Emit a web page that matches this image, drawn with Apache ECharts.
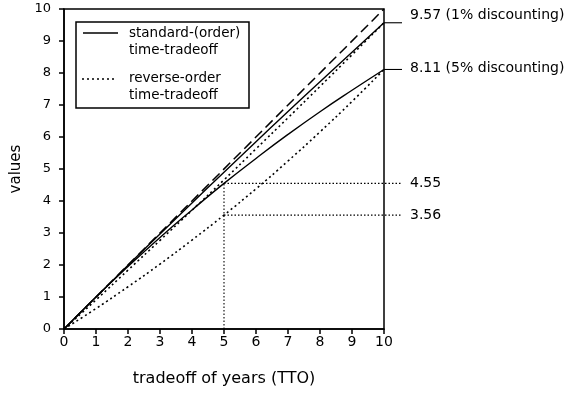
<!DOCTYPE html>
<html>
<head>
<meta charset="utf-8">
<script src="https://cdn.jsdelivr.net/npm/echarts@6/dist/echarts.min.js"></script>
<style>
  html, body { margin: 0; padding: 0; background: #fff; }
  #chart { width: 570px; height: 395px; }
</style>
</head>
<body>
<div id="chart"></div>
<script>
// Years traded off (TTO) and the resulting values
const years = [0, 1, 2, 3, 4, 5, 6, 7, 8, 9, 10];
const undiscounted = [0, 1, 2, 3, 4, 5, 6, 7, 8, 9, 10];
const standard1 = [0, 1.00, 1.99, 2.97, 3.94, 4.90, 5.85, 6.80, 7.73, 8.65, 9.57];
const standard5 = [0, 1.00, 1.95, 2.86, 3.72, 4.55, 5.33, 6.08, 6.79, 7.46, 8.11];
const reverse1 = [0, 0.91, 1.84, 2.77, 3.71, 4.66, 5.63, 6.60, 7.58, 8.57, 9.57];
const reverse5 = [0, 0.64, 1.32, 2.03, 2.78, 3.56, 4.38, 5.25, 6.16, 7.11, 8.11];

// Annotated values: start year, value, label text, dotted leader, label shift
const guideYear = 5;
const annotValues = [9.57, 8.11, 4.55, 3.56];
const annotLabels = ['9.57 (1% discounting)', '8.11 (5% discounting)', '4.55', '3.56'];
const annotStart = [10, 10, 5, 5];
const annotDotted = [0, 0, 1, 1];
const annotShift = [-7, -1, 0, 0];

const xTicks = [0, 1, 2, 3, 4, 5, 6, 7, 8, 9, 10];
const yTicks = [0, 1, 2, 3, 4, 5, 6, 7, 8, 9, 10];

const FONT = 'DejaVu Sans';
const pair = (xs, ys) => xs.map((x, i) => [x, ys[i]]);

function curve(values, type) {
  return {
    type: 'line', data: pair(years, values), showSymbol: false, smooth: true,
    lineStyle: { color: '#000', width: type === 'solid' ? 1.4 : 1.6, type: type },
    silent: true, z: 3
  };
}

// Leader lines running past the right frame, with their value labels
const annotations = {
  type: 'custom', clip: false, silent: true, z: 2,
  data: annotValues.map((v, i) => [annotStart[i], v, i]),
  renderItem: function (params, api) {
    const i = api.value(2);
    const p0 = api.coord([api.value(0), api.value(1)]);
    const pEdge = api.coord([xTicks[xTicks.length - 1], api.value(1)]);
    const xEnd = pEdge[0] + 18;
    return {
      type: 'group',
      children: [
        {
          type: 'line',
          shape: { x1: p0[0], y1: p0[1], x2: xEnd, y2: p0[1] },
          style: annotDotted[i]
            ? { stroke: '#000', lineWidth: 1.1, lineDash: [1.5, 2] }
            : { stroke: '#000', lineWidth: 1.1 }
        },
        {
          type: 'text',
          x: xEnd + 8, y: p0[1] + annotShift[i],
          style: {
            text: annotLabels[i], fill: '#000', font: '14px "DejaVu Sans"',
            textAlign: 'left', textVerticalAlign: 'middle'
          }
        }
      ]
    };
  }
};

const series = [
  {
    type: 'line', data: pair([0, 10], [undiscounted[0], undiscounted[10]]), showSymbol: false,
    lineStyle: { color: '#000', width: 1.5, type: [10, 5] }, silent: true, z: 3
  },
  curve(standard1, 'solid'),
  curve(standard5, 'solid'),
  curve(reverse1, [2, 3]),
  curve(reverse5, [2, 3]),
  // vertical guide at year 5
  {
    type: 'line', showSymbol: false, silent: true,
    data: [[guideYear, 0], [guideYear, annotValues[2]]],
    lineStyle: { color: '#000', width: 1.1, type: [1.5, 2] }, z: 2
  },
  annotations
];

const chart = echarts.init(document.getElementById('chart'));
chart.setOption({
  animation: false,
  backgroundColor: '#fff',
  grid: {
    left: 64, right: 186, top: 9, bottom: 66,
    show: true, borderColor: '#000', borderWidth: 1.5, backgroundColor: 'transparent'
  },
  xAxis: {
    type: 'value', min: xTicks[0], max: xTicks[xTicks.length - 1], interval: 1,
    name: 'tradeoff of years (TTO)', nameLocation: 'middle', nameGap: 42,
    nameTextStyle: { color: '#000', fontFamily: FONT, fontSize: 16 },
    axisLine: { lineStyle: { color: '#000', width: 1.5 } },
    axisTick: { show: true, length: 5, lineStyle: { color: '#000', width: 1.5 } },
    axisLabel: { color: '#000', fontFamily: FONT, fontSize: 14, margin: 6 },
    splitLine: { show: false }
  },
  yAxis: {
    type: 'value', min: yTicks[0], max: yTicks[yTicks.length - 1], interval: 1,
    name: 'values', nameLocation: 'middle', nameGap: 40, nameRotate: 90,
    nameTextStyle: { color: '#000', fontFamily: FONT, fontSize: 15 },
    axisLine: { lineStyle: { color: '#000', width: 1.5 } },
    axisTick: { show: true, length: 5, lineStyle: { color: '#000', width: 1.5 } },
    axisLabel: { color: '#000', fontFamily: FONT, fontSize: 13, margin: 13 },
    splitLine: { show: false }
  },
  series: series,
  graphic: [
    { type: 'rect', shape: { x: 76, y: 22, width: 173, height: 86 },
      style: { fill: '#fff', stroke: '#000', lineWidth: 1.5 }, z: 10 },
    { type: 'line', shape: { x1: 83, y1: 33, x2: 118, y2: 33 },
      style: { stroke: '#000', lineWidth: 1.4 }, z: 11 },
    { type: 'line', shape: { x1: 82, y1: 79, x2: 116, y2: 79 },
      style: { stroke: '#000', lineWidth: 1.6, lineDash: [2, 3] }, z: 11 },
    { type: 'text', left: 129, top: 25, z: 11,
      style: { text: 'standard-(order)\ntime-tradeoff', fill: '#000', font: '13.5px "DejaVu Sans"', lineHeight: 17 } },
    { type: 'text', left: 129, top: 70, z: 11,
      style: { text: 'reverse-order\ntime-tradeoff', fill: '#000', font: '13.5px "DejaVu Sans"', lineHeight: 17 } }
  ]
});
</script>
</body>
</html>
